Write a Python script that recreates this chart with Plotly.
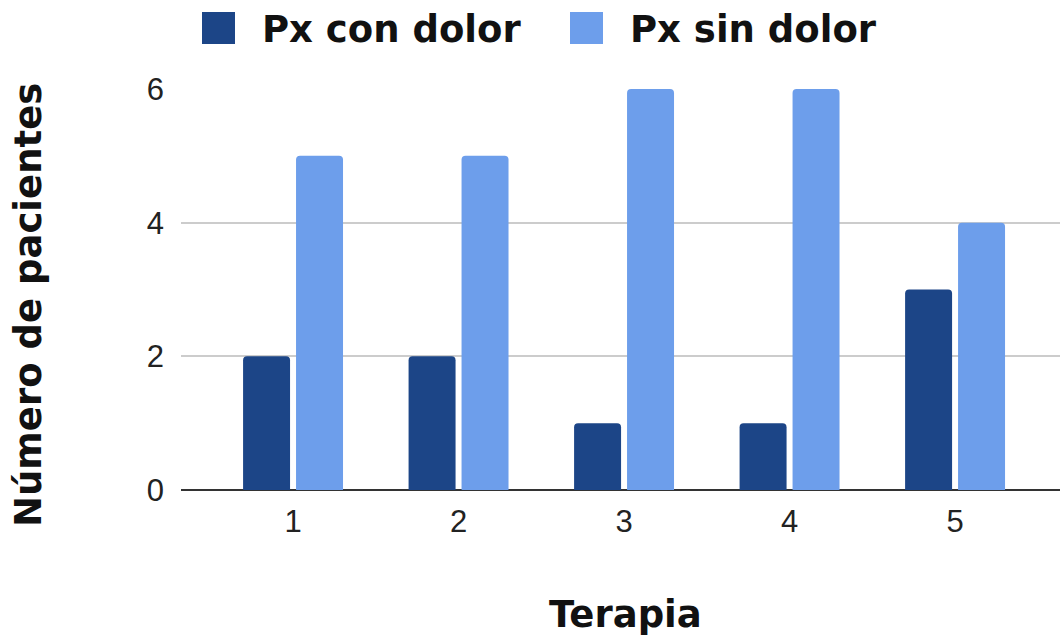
import plotly.graph_objects as go

# ---- data ----
terapias = [1, 2, 3, 4, 5]
con_dolor = [2, 2, 1, 1, 3]
sin_dolor = [5, 5, 6, 6, 4]
series_names = ["Px con dolor", "Px sin dolor"]
y_ticks = [0, 2, 4, 6]
x_title = "Terapia"
y_title = "Número de pacientes"

DARK = "#1c4587"
LIGHT = "#6d9eeb"

W, H = 1060, 639
L, R, T, B = 181, 0, 89, 149
PW, PH = W - L - R, H - T - B

def px_x(p):
    return (p - L) / PW

def px_y(p):
    return (H - B - p) / PH

fig = go.Figure()
fig.add_trace(go.Bar(x=terapias, y=con_dolor, name=series_names[0],
                     marker=dict(color=DARK, line=dict(width=0))))
fig.add_trace(go.Bar(x=terapias, y=sin_dolor, name=series_names[1],
                     marker=dict(color=LIGHT, line=dict(width=0))))

title_font = dict(family="DejaVu Sans", size=37, color="#111111", weight="bold")
tick_font = dict(family="Liberation Sans", size=31, color="#222222")

fig.update_layout(
    width=W, height=H,
    margin=dict(l=L, r=R, t=T, b=B, pad=0),
    paper_bgcolor="white", plot_bgcolor="white",
    barmode="group", bargap=0.36, bargroupgap=0.113,
    barcornerradius=4,
    showlegend=False,
    xaxis=dict(range=[0.323, 5.634], tickmode="array", tickvals=terapias,
               ticktext=[str(t) for t in terapias], tickfont=tick_font,
               showgrid=False, zeroline=False, showline=False, ticks="",
               ticklabelstandoff=10, fixedrange=True),
    yaxis=dict(range=[0, 6], tickmode="array", tickvals=y_ticks,
               ticktext=[str(t) for t in y_ticks], tickfont=tick_font,
               showgrid=True, gridcolor="#cccccc", gridwidth=1.5,
               zeroline=True, zerolinecolor="#333333", zerolinewidth=2,
               showline=False, ticks="", ticklabelstandoff=16, fixedrange=True),
)

annotations = [
    dict(text=x_title, x=px_x(625), y=px_y(614), xref="paper", yref="paper",
         xanchor="center", yanchor="middle", showarrow=False, font=title_font),
    dict(text=y_title, x=px_x(28), y=px_y(305), xref="paper", yref="paper",
         xanchor="center", yanchor="middle", showarrow=False, font=title_font,
         textangle=-90),
]
shapes = []
legend_items = [(series_names[0], DARK, 202, 260), (series_names[1], LIGHT, 570, 628)]
for name, col, sx, tx in legend_items:
    shapes.append(dict(type="rect", xref="paper", yref="paper",
                       x0=px_x(sx), x1=px_x(sx + 33), y0=px_y(44), y1=px_y(12),
                       fillcolor=col, line=dict(width=0), layer="above"))
    annotations.append(dict(text=name, x=px_x(tx), y=px_y(29), xref="paper", yref="paper",
                            xanchor="left", yanchor="middle", showarrow=False,
                            font=title_font))
fig.update_layout(annotations=annotations, shapes=shapes)

fig.write_html("out.html", config={"displayModeBar": False})
